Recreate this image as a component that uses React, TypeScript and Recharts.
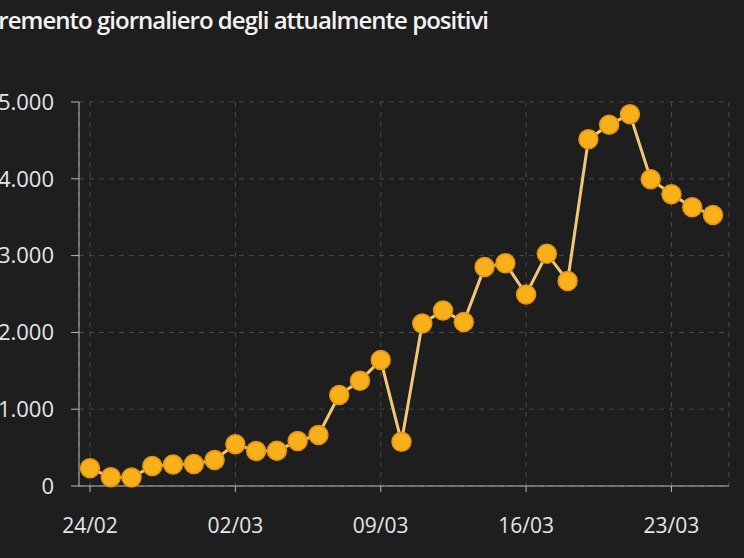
import { LineChart, Line, XAxis, YAxis, CartesianGrid } from 'recharts'

const dates = [
  '24/02', '25/02', '26/02', '27/02', '28/02', '29/02', '01/03', '02/03',
  '03/03', '04/03', '05/03', '06/03', '07/03', '08/03', '09/03', '10/03',
  '11/03', '12/03', '13/03', '14/03', '15/03', '16/03', '17/03', '18/03',
  '19/03', '20/03', '21/03', '22/03', '23/03', '24/03', '25/03',
]

const dailyChange = [
  230, 115, 110, 260, 280, 285, 340, 545,
  455, 460, 585, 665, 1185, 1370, 1640, 575,
  2115, 2285, 2135, 2850, 2900, 2495, 3025, 2670,
  4515, 4705, 4840, 3995, 3800, 3630, 3530,
]

const xTicks = ['24/02', '02/03', '09/03', '16/03', '23/03']
const yTicks = [0, 1000, 2000, 3000, 4000, 5000]

const title = 'Incremento giornaliero degli attualmente positivi'

const data = dates.map((d, i) => ({ d, v: dailyChange[i] }))

const fmt = (n: number) => {
  if (n < 1000) return String(n)
  const s = String(n)
  return s.slice(0, s.length - 3) + '.' + s.slice(s.length - 3)
}

const font = '"Open Sans", "DejaVu Sans", sans-serif'

export default function App() {
  return (
    <div
      style={{
        position: 'absolute',
        left: 0,
        top: 0,
        width: 744,
        height: 558,
        background: '#1e1e1e',
        overflow: 'hidden',
        fontFamily: font,
      }}
    >
      <div
        style={{
          position: 'absolute',
          right: 256,
          top: 3,
          whiteSpace: 'nowrap',
          color: '#f2f2f2',
          fontSize: 24,
          fontWeight: 600,
          letterSpacing: -0.98,
        }}
      >
        {title}
      </div>
      <LineChart
        width={744}
        height={558}
        data={data}
        margin={{ top: 102, right: 15, bottom: 0, left: 0 }}
      >
        <CartesianGrid stroke="#4a4a4a" strokeDasharray="5 5" />
        <XAxis
          dataKey="d"
          ticks={xTicks}
          interval={0}
          height={72}
          padding={{ left: 11, right: 16 }}
          stroke="#b8b8b8"
          tickSize={6}
          tickMargin={26}
          tick={{ fill: '#e6e6e6', fontSize: 21, fontFamily: font }}
        />
        <YAxis
          domain={[0, 5000]}
          ticks={yTicks}
          width={79}
          stroke="#b8b8b8"
          tickSize={8}
          tickMargin={17}
          tickFormatter={fmt}
          tick={{ fill: '#e6e6e6', fontSize: 22, fontFamily: font }}
        />
        <Line
          type="linear"
          dataKey="v"
          stroke="#f2c878"
          strokeWidth={3}
          isAnimationActive={false}
          dot={{ r: 9.5, fill: '#f8b01a', stroke: '#e5930f', strokeWidth: 1.5 }}
          activeDot={false}
        />
      </LineChart>
    </div>
  )
}
